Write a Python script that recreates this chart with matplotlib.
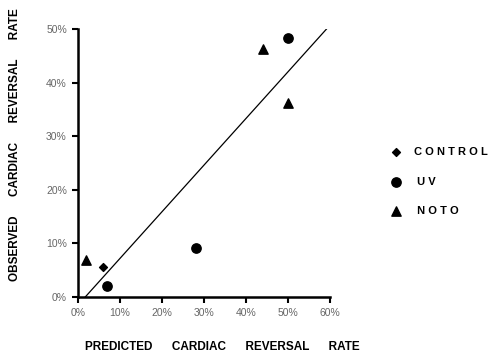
import matplotlib
matplotlib.use("Agg")
import matplotlib.pyplot as plt
from matplotlib.ticker import FuncFormatter

plt.rcParams['font.family'] = ['Liberation Sans', 'DejaVu Sans']

# predicted vs observed cardiac reversal rate (%)
control_x = [6.0]
control_y = [5.6]
uv_x = [7.0, 28.0, 50.0]
uv_y = [2.0, 9.1, 48.3]
noto_x = [2.0, 44.0, 50.0]
noto_y = [7.0, 46.2, 36.2]
fit_x = [1.7, 59.2]
fit_y = [0.0, 50.0]

fig = plt.figure(figsize=(5.0, 3.61), dpi=100)
ax = fig.add_axes([0.156, 0.177, 0.504, 0.743])

ax.plot(fit_x, fit_y, color='black', lw=0.9)
ax.scatter(control_x, control_y, marker='D', s=16, color='black', label='CONTROL', zorder=3)
ax.scatter(uv_x, uv_y, marker='o', s=45, color='black', label=' U V', zorder=3)
ax.scatter(noto_x, noto_y, marker='^', s=45, color='black', label=' N O T O', zorder=3)

ax.set_xlim(0, 60)
ax.set_ylim(0, 50)
ax.set_xticks(range(0, 61, 10))
ax.set_yticks(range(0, 51, 10))
pct = FuncFormatter(lambda v, p: f"{int(v)}%")
ax.xaxis.set_major_formatter(pct)
ax.yaxis.set_major_formatter(pct)
ax.tick_params(direction='out', length=4, width=1.5, labelsize=7.5, labelcolor='#666666', pad=4)

for s in ['top', 'right']:
    ax.spines[s].set_visible(False)
for s in ['left', 'bottom']:
    ax.spines[s].set_linewidth(1.8)

fig.text(0.445, 0.039, 'PREDICTED      CARDIAC      REVERSAL      RATE', fontsize=8.5,
         fontweight='bold', ha='center', va='center')
fig.text(0.03, 0.598, 'OBSERVED      CARDIAC      REVERSAL      RATE', fontsize=8.5,
         fontweight='bold', ha='center', va='center', rotation=90)

leg = ax.legend(loc='upper left', bbox_to_anchor=(1.2, 0.575), frameon=False,
                fontsize=8, labelspacing=1.75, handletextpad=0.6,
                scatterpoints=1, borderaxespad=0)
for t in leg.get_texts():
    t.set_fontweight('bold')
leg.get_texts()[0].set_text('C O N T R O L')

fig.savefig('out.png', dpi=100)
